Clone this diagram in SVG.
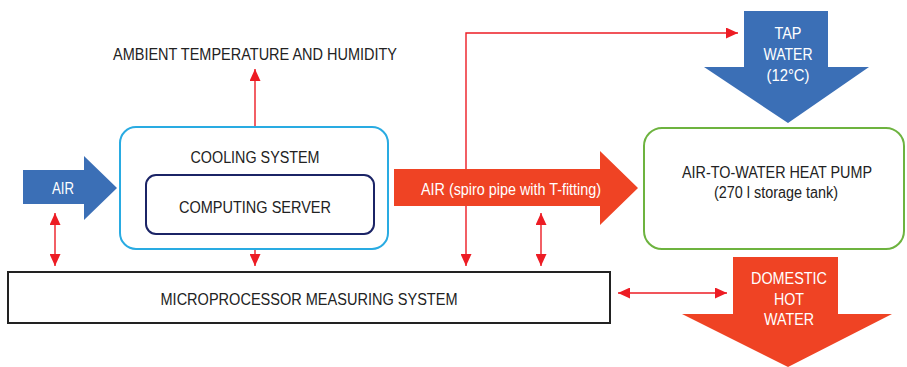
<svg xmlns="http://www.w3.org/2000/svg" width="907" height="367" viewBox="0 0 907 367">
<defs>
<marker id="ah" markerUnits="userSpaceOnUse" markerWidth="12" markerHeight="11" refX="12" refY="5.5" orient="auto-start-reverse">
<path d="M0,0 L12,5.5 L0,11 z" fill="#ed1c24"/>
</marker>
</defs>
<style>
.t{font-family:"Liberation Sans",Arial,sans-serif;font-size:16px;fill:#222;text-anchor:middle}
.w{fill:#fff}
.c{fill:none;stroke:#ed1c24;stroke-width:1.4}
.blue{fill:#3b6fb6}
.red{fill:#ef4324}
</style>
<rect width="907" height="367" fill="#fff"/>
<g id="connectors">
<path class="c" d="M255,127 V69" marker-end="url(#ah)"/>
<path class="c" d="M55,213 V266" marker-start="url(#ah)" marker-end="url(#ah)"/>
<path class="c" d="M255,249 V266" marker-end="url(#ah)"/>
<path class="c" d="M738,33 H466 V266" marker-start="url(#ah)" marker-end="url(#ah)"/>
<path class="c" d="M541,213 V266" marker-start="url(#ah)" marker-end="url(#ah)"/>
<path class="c" d="M618,293 H727" marker-start="url(#ah)" marker-end="url(#ah)"/>
</g>
<g id="ambient">
<text class="t" x="255" y="60" textLength="284" lengthAdjust="spacingAndGlyphs">AMBIENT TEMPERATURE AND HUMIDITY</text>
</g>
<g id="air-in">
<polygon class="blue" points="23,170 84,170 84,156 117,188 84,220 84,204 23,204"/>
<text class="t w" x="63" y="194" textLength="22" lengthAdjust="spacingAndGlyphs">AIR</text>
</g>
<g id="cooling-system">
<rect x="120" y="127" width="268" height="122" rx="16" fill="none" stroke="#29abe2" stroke-width="2"/>
<text class="t" x="255" y="163" textLength="129" lengthAdjust="spacingAndGlyphs">COOLING SYSTEM</text>
</g>
<g id="computing-server">
<rect x="146" y="175" width="228" height="59" rx="10" fill="none" stroke="#1b2466" stroke-width="2"/>
<text class="t" x="255" y="213" textLength="152" lengthAdjust="spacingAndGlyphs">COMPUTING SERVER</text>
</g>
<g id="air-pipe">
<polygon class="red" points="394,169 600,169 600,151 638,188 600,225 600,206 394,206"/>
<text class="t w" x="511" y="195" textLength="180" lengthAdjust="spacingAndGlyphs">AIR (spiro pipe with T-fitting)</text>
</g>
<g id="heat-pump">
<rect x="644" y="128" width="260" height="121" rx="18" fill="none" stroke="#6db33f" stroke-width="2"/>
<text class="t" x="777" y="178" textLength="190" lengthAdjust="spacingAndGlyphs">AIR-TO-WATER HEAT PUMP</text>
<text class="t" x="776" y="198" textLength="124" lengthAdjust="spacingAndGlyphs">(270 l storage tank)</text>
</g>
<g id="tap-water">
<polygon class="blue" points="744,11 828,11 828,67 869,67 788,123 704,67 744,67"/>
<text class="t w" x="788" y="39" textLength="27" lengthAdjust="spacingAndGlyphs">TAP</text>
<text class="t w" x="788" y="60" textLength="49" lengthAdjust="spacingAndGlyphs">WATER</text>
<text class="t w" x="788" y="81" textLength="43" lengthAdjust="spacingAndGlyphs">(12°C)</text>
</g>
<g id="measuring-system">
<rect x="8" y="272" width="602" height="51" fill="#fff" stroke="#222" stroke-width="2"/>
<text class="t" x="309" y="305" textLength="297" lengthAdjust="spacingAndGlyphs">MICROPROCESSOR MEASURING SYSTEM</text>
</g>
<g id="domestic-hot-water">
<polygon class="red" points="733,257 838,257 838,314 892,314 788,367 682,314 733,314"/>
<text class="t w" x="789" y="284" textLength="76" lengthAdjust="spacingAndGlyphs">DOMESTIC</text>
<text class="t w" x="789" y="305" textLength="30" lengthAdjust="spacingAndGlyphs">HOT</text>
<text class="t w" x="789" y="325" textLength="50" lengthAdjust="spacingAndGlyphs">WATER</text>
</g>
</svg>
